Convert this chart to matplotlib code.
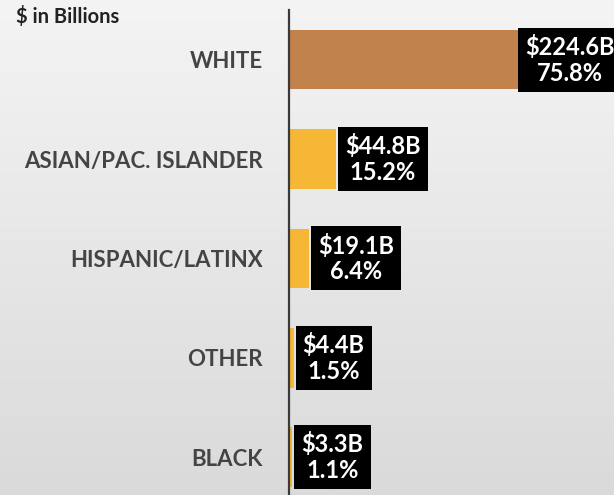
import numpy as np
import matplotlib.pyplot as plt

# values
groups = ['WHITE', 'ASIAN/PAC. ISLANDER', 'HISPANIC/LATINX', 'OTHER', 'BLACK']
amounts = [224.6, 44.8, 19.1, 4.4, 3.3]
shares = [75.8, 15.2, 6.4, 1.5, 1.1]

bar_colors = ['#C1834B', '#F6B636', '#F6B636', '#F6B636', '#F6B636']

plt.rcParams['font.family'] = ['Lato', 'DejaVu Sans']

fig = plt.figure(figsize=(6.14, 4.95), dpi=100)

# --> soft grey gradient background
bg = fig.add_axes([0, 0, 1, 1], zorder=-10)
grad = np.linspace(0, 1, 256).reshape(-1, 1)
bg.imshow(grad, aspect='auto', cmap=plt.matplotlib.colors.LinearSegmentedColormap.from_list(
    'bg', ['#F4F4F4', '#DADADA']), extent=[0, 1, 0, 1])
bg.set_axis_off()

ax = fig.add_axes([289 / 614, 0, 1 - 289 / 614, 1])
ax.set_facecolor('none')
y = np.arange(len(groups))
ax.barh(y, amounts, height=0.6, color=bar_colors, zorder=2)
ax.set_xlim(0, 310)
ax.set_ylim(4.38, -0.6)

for s in ['top', 'right', 'bottom']:
    ax.spines[s].set_visible(False)
ax.spines['left'].set_color('#3A3A3A')
ax.spines['left'].set_linewidth(1.6)
ax.spines['left'].set_bounds(4.38, -0.5)
ax.set_xticks([])
ax.set_yticks(y)
ax.set_yticklabels(groups, fontsize=16, fontweight='bold', color='#444444')
ax.tick_params(axis='y', length=0, pad=19)

for i, (amt, pct) in enumerate(zip(amounts, shares)):
    off = 1 if i == 0 else 9
    ax.annotate(f'${amt}B\n{pct}%', xy=(amt, i), xytext=(off, 0),
                textcoords='offset pixels', ha='left', va='center',
                ma='center', fontsize=17, fontweight='bold', color='white',
                linespacing=1.15, zorder=3, annotation_clip=False,
                bbox=dict(boxstyle='square,pad=0.3', fc='black', ec='none'))

fig.text(16 / 614, 1 - 17 / 495, '$ in Billions', fontsize=14.5, fontweight='bold',
         color='#222222', va='center', ha='left')

fig.savefig('out.png', dpi=100)
